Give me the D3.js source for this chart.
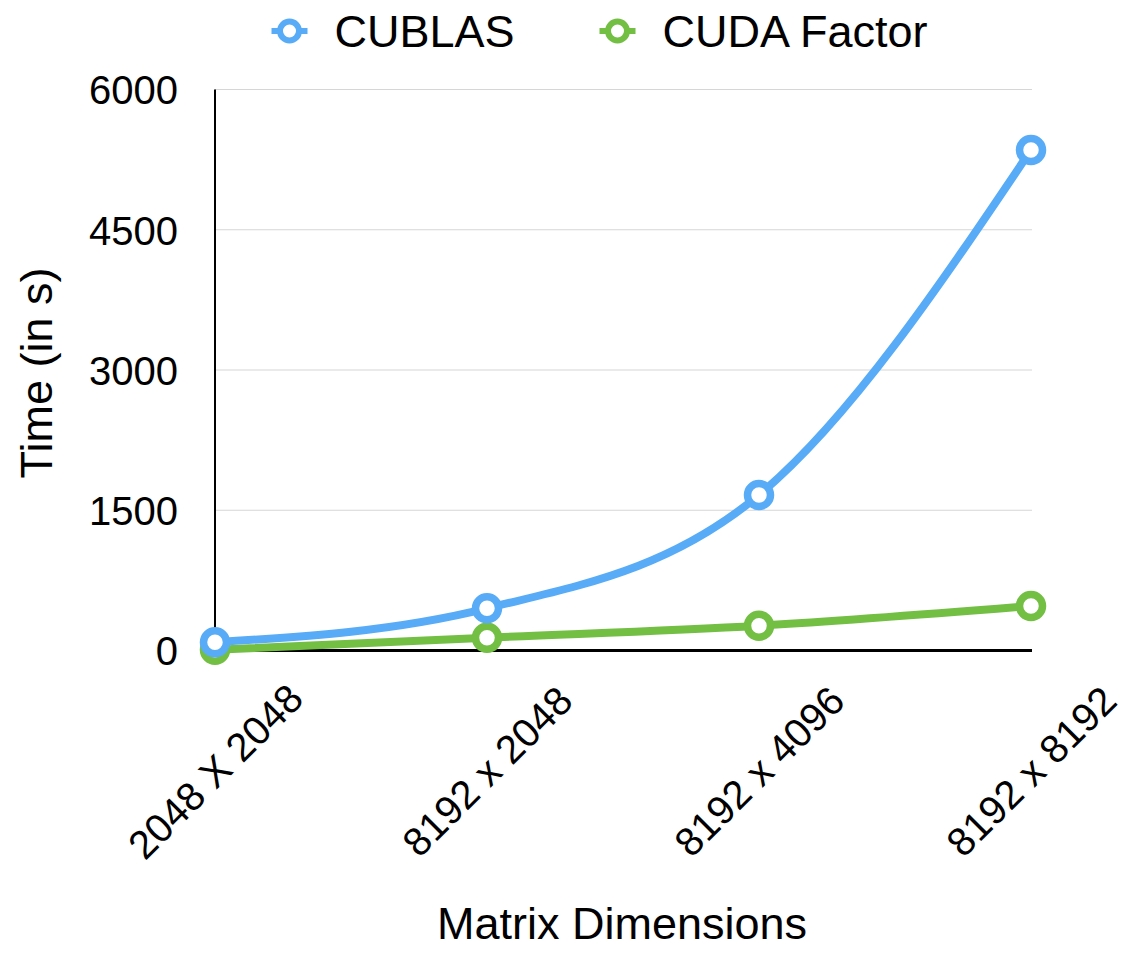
<!DOCTYPE html>
<html><head><meta charset="utf-8">
<script src="https://cdn.jsdelivr.net/npm/d3@7"></script>
<style>
html,body{margin:0;padding:0;background:#fff;}
text{font-family:"Liberation Sans",Arial,Helvetica,sans-serif;fill:#000;}
</style></head>
<body>
<svg id="chart" width="1142" height="966"></svg>
<script>
const categories = ["2048 X 2048", "8192 x 2048", "8192 x 4096", "8192 x 8192"];
const seriesNames = ["CUBLAS", "CUDA Factor"];
const cublas = [88, 451, 1663, 5353];
const cudaFactor = [8, 137, 265, 476];
const yTicks = [0, 1500, 3000, 4500, 6000];
const colors = ["#58abf6", "#72bf44"];

const svg = d3.select("#chart");
const plotLeft = 215, plotRight = 1031, plotTop = 89.5, plotBottom = 650.5;

const x = d3.scalePoint().domain(categories).range([plotLeft, plotRight]);
const y = d3.scaleLinear().domain([0, 6000]).range([plotBottom, plotTop]);

// gridlines
svg.append("g").selectAll("line").data(yTicks.filter(d => d > 0)).join("line")
  .attr("x1", plotLeft).attr("x2", plotRight + 1)
  .attr("y1", d => y(d)).attr("y2", d => y(d))
  .attr("stroke", "#d6d6d6").attr("stroke-width", 1.2);

// y axis
const yAxis = svg.append("g").attr("transform", `translate(${plotLeft},0)`)
  .call(d3.axisLeft(y).tickValues(yTicks).tickFormat(d3.format("d")).tickSize(0).tickPadding(37));
yAxis.select(".domain").remove();
yAxis.selectAll("text").attr("font-size", 40).attr("font-family", '"Liberation Sans",Arial,sans-serif')
  .attr("fill", "#000").attr("dy", "0.36em");
svg.append("line").attr("x1", plotLeft).attr("x2", plotLeft).attr("y1", plotTop).attr("y2", plotBottom)
  .attr("stroke", "#000").attr("stroke-width", 2);

// x axis
const xAxis = svg.append("g").attr("transform", `translate(0,${plotBottom})`)
  .call(d3.axisBottom(x).tickSize(0).tickFormat(() => ""));
xAxis.select(".domain").remove();
svg.append("line").attr("x1", plotLeft - 1).attr("x2", plotRight + 1).attr("y1", plotBottom).attr("y2", plotBottom)
  .attr("stroke", "#000").attr("stroke-width", 3);

svg.append("g").selectAll("text").data(categories).join("text")
  .attr("transform", d => `translate(${x(d)},771) rotate(-45)`)
  .attr("text-anchor", "middle").attr("dy", "0.36em")
  .attr("font-size", 40).text(d => d);

// axis titles
svg.append("text").attr("x", 622).attr("y", 939).attr("text-anchor", "middle")
  .attr("font-size", 45).text("Matrix Dimensions");
svg.append("text").attr("transform", "translate(52,373) rotate(-90)")
  .attr("text-anchor", "middle").attr("font-size", 45).text("Time (in s)");

// lines
const line = d3.line().x((d, i) => x(categories[i])).y(d => y(d)).curve(d3.curveMonotoneX);
const seriesData = [cublas, cudaFactor];
// draw green first so blue on top
[1, 0].forEach(si => {
  const g = svg.append("g");
  g.append("path").attr("d", line(seriesData[si])).attr("fill", "none")
    .attr("stroke", colors[si]).attr("stroke-width", 8).attr("stroke-linecap", "round");
  g.selectAll("circle").data(seriesData[si]).join("circle")
    .attr("cx", (d, i) => x(categories[i])).attr("cy", d => y(d))
    .attr("r", 11.5).attr("fill", "#fff").attr("stroke", colors[si]).attr("stroke-width", 7.5);
});

// legend
const legendX = [289.5, 617.5];
const legend = svg.append("g");
seriesNames.forEach((name, i) => {
  const cx = legendX[i], cy = 31;
  legend.append("line").attr("x1", cx - 18).attr("x2", cx + 18).attr("y1", cy).attr("y2", cy)
    .attr("stroke", colors[i]).attr("stroke-width", 6);
  legend.append("circle").attr("cx", cx).attr("cy", cy).attr("r", 9.5)
    .attr("fill", "#fff").attr("stroke", colors[i]).attr("stroke-width", 6);
  legend.append("text").attr("x", cx + 45).attr("y", 47).attr("font-size", 45).text(name);
});
</script>
</body></html>
